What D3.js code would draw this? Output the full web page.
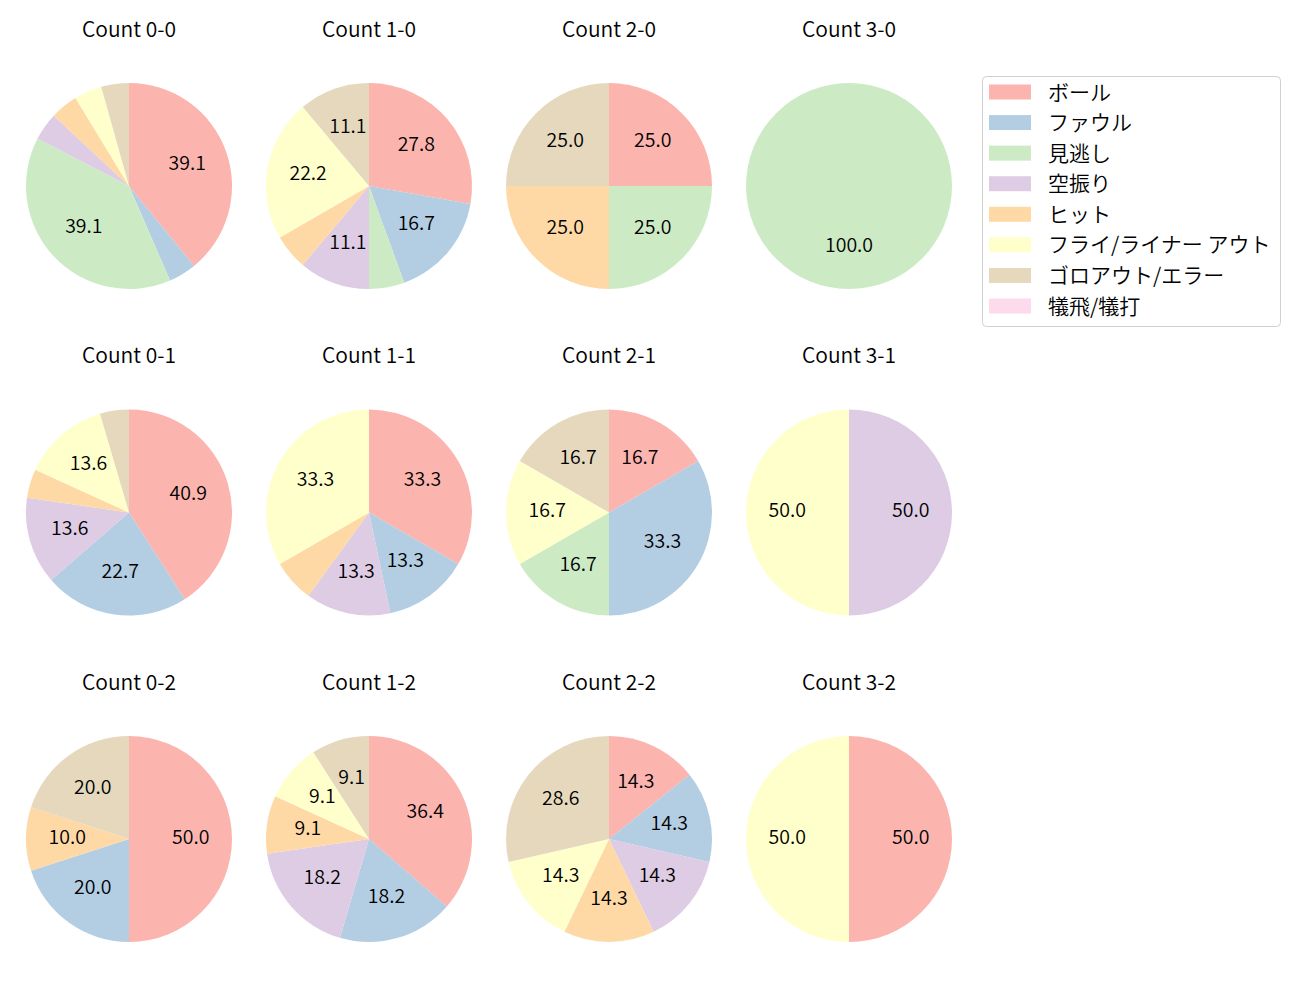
<!DOCTYPE html>
<html><head><meta charset="utf-8">
<script src="https://cdn.jsdelivr.net/npm/d3@7"></script>
<style>body{margin:0;background:#fff}svg{display:block}text{font-family:"Noto Sans CJK JP","Noto Sans",sans-serif;fill:#000;font-weight:350}</style>
</head><body>
<script>
const categories = ["ボール","ファウル","見逃し","空振り","ヒット","フライ/ライナー アウト","ゴロアウト/エラー","犠飛/犠打"];
const colors = ["#fbb4ae","#b3cde3","#ccebc5","#decbe4","#fed9a6","#ffffcc","#e5d8bd","#fddaec"];
const titles = ["Count 0-0","Count 1-0","Count 2-0","Count 3-0",
                "Count 0-1","Count 1-1","Count 2-1","Count 3-1",
                "Count 0-2","Count 1-2","Count 2-2","Count 3-2"];
// counts per category, in category order
const count00 = [9,1,9,1,1,1,1,0];
const count10 = [5,3,1,2,1,4,2,0];
const count20 = [1,0,1,0,1,0,1,0];
const count30 = [0,0,1,0,0,0,0,0];
const count01 = [9,5,0,3,1,3,1,0];
const count11 = [5,2,0,2,1,5,0,0];
const count21 = [1,2,1,0,0,1,1,0];
const count31 = [0,0,0,1,0,1,0,0];
const count02 = [5,2,0,0,1,0,2,0];
const count12 = [4,2,0,2,1,1,1,0];
const count22 = [1,1,0,1,1,1,2,0];
const count32 = [1,0,0,0,0,1,0,0];
const allCounts = [count00,count10,count20,count30,count01,count11,count21,count31,count02,count12,count22,count32];

const W=1300,H=1000;
const svg=d3.select("body").append("svg").attr("width",W).attr("height",H);
const colX=d3.scalePoint().domain([0,1,2,3]).range([129,849]);
const rowY=d3.scalePoint().domain([0,1,2]).range([186,839]);
const R=103;
const color=d3.scaleOrdinal().domain(categories).range(colors);
const pie=d3.pie().sort(null).value(d=>d.v);
const arc=d3.arc().innerRadius(0).outerRadius(R);
const labelArc=d3.arc().innerRadius(R*0.6).outerRadius(R*0.6);

allCounts.forEach((cnt,i)=>{
  const c=i%4,r=Math.floor(i/4);
  const g=svg.append("g").attr("transform",`translate(${colX(c)},${rowY(r)})`);
  const total=d3.sum(cnt);
  const data=categories.map((k,j)=>({k,v:cnt[j]})).filter(d=>d.v>0);
  const arcs=pie(data);
  g.selectAll("path").data(arcs).join("path").attr("d",arc).attr("fill",d=>color(d.data.k));
  g.selectAll("text.lab").data(arcs.filter(d=>d.data.v/total*100>=8)).join("text")
    .attr("class","lab")
    .attr("transform",d=>`translate(${labelArc.centroid(d)})`)
    .attr("text-anchor","middle").attr("dy","0.24em")
    .style("font-size","19.5px")
    .text(d=>(d.data.v/total*100).toFixed(1));
  svg.append("text").attr("x",colX(c)).attr("y",rowY(r)-157)
    .attr("text-anchor","middle").attr("dy","0.36em").style("font-size","21px").text(titles[i]);
});

// legend
const lg=svg.append("g");
lg.append("rect").attr("x",982.5).attr("y",76.5).attr("width",298).attr("height",250)
  .attr("rx",4).attr("fill","#fff").attr("stroke","#d0d0d0");
const ly=d3.scalePoint().domain(categories).range([92,306]);
categories.forEach(k=>{
  lg.append("rect").attr("x",989).attr("y",ly(k)-7.5).attr("width",42).attr("height",15).attr("fill",color(k));
  lg.append("text").attr("x",1048).attr("y",ly(k)).attr("dy","0.36em").style("font-size","21px").text(k);
});
</script>
</body></html>
